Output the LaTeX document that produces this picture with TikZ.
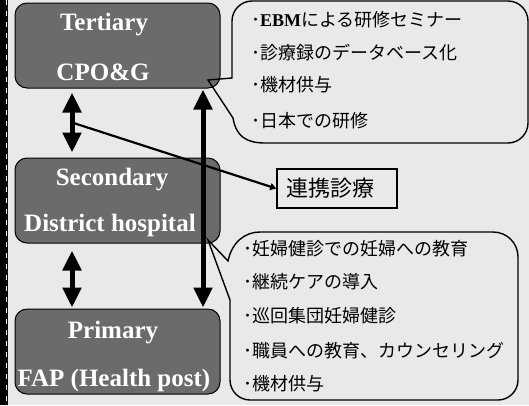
\documentclass[tikz,border=0pt]{standalone}
\usepackage{fontspec}
\setmainfont{Liberation Serif}
\newfontfamily\jp{Noto Sans CJK JP}
\usetikzlibrary{arrows.meta,calc}
\begin{document}
\begin{tikzpicture}[x=1pt,y=-1pt,
  tierbox/.style={draw=black, line width=1pt, fill=black!58, rounded corners=12pt, minimum width=205pt, minimum height=85pt, inner sep=0pt},
  tiertext/.style={text=white, font=\bfseries\fontsize{25}{25}\selectfont, inner sep=0pt},
  dbl/.style={line width=5pt, {Triangle[width=18pt,length=20pt]}-{Triangle[width=18pt,length=20pt]}},
  callout/.style={draw=black, line width=1.4pt},
  jptext/.style={anchor=west, inner sep=0pt, font=\jp\fontsize{18}{18}\selectfont},
  linkbox/.style={draw=black, line width=1.6pt, minimum width=120pt, minimum height=39pt, inner sep=0pt, font=\jp\fontsize{22}{22}\selectfont},
  conn/.style={line width=2.2pt, -{Triangle[width=7pt,length=6pt]}}
]
\useasboundingbox (0,0) rectangle (529,405);
\fill[gray!17] (0,0) rectangle (529,405);
\fill[black] (0,0) rectangle (8,405);
\draw[white, line width=1pt, dash pattern=on 5pt off 6pt] (6,0) -- (6,405);

% tier boxes
\node[tierbox] (tert) at (117.5,45.5) {};
\node[tierbox] (sec) at (117.5,200.5) {};
\node[tierbox] (prim) at (117.5,351.5) {};

\node[tiertext] (tertA) at (104,25) {Tertiary};
\node[tiertext] (tertB) at (103,72) {CPO\&G};
\node[tiertext] (secA) at (112,180) {Secondary};
\node[tiertext] (secB) at (110,225) {District hospital};
\node[tiertext] (primA) at (113,333) {Primary};
\node[tiertext] (primB) at (114,380) {FAP (Health post)};

% arrows
\coordinate (a1t) at ([xshift=-45.5pt,yshift=-4pt]tert.south);
\coordinate (a1b) at ([xshift=-45.5pt,yshift=5pt]sec.north);
\coordinate (a2t) at ([xshift=-45.5pt,yshift=-7pt]sec.south);
\coordinate (a2b) at ([xshift=-45.5pt,yshift=1pt]prim.north);
\coordinate (a3t) at ([xshift=85.5pt,yshift=-1pt]tert.south);
\coordinate (a3b) at ([xshift=85.5pt,yshift=1pt]prim.north);
\draw[dbl] (a1t) -- (a1b);
\draw[dbl] (a2t) -- (a2b);
\draw[dbl] (a3t) -- (a3b);

\coordinate (mid) at ($(a1t)!0.5!(a1b)$);
\node[linkbox] (link) at (337,188.5) {連携診療\hspace*{14pt}};
\draw[conn] (mid) -- (link.west);

% callouts
\draw[callout] (232,78) -- (232,21) .. controls (232,10) and (241,1) .. (252,1) -- (508,1) .. controls (519,1) and (528,10) .. (528,21) -- (528,123) .. controls (528,134) and (519,143) .. (508,143) -- (265,143) .. controls (246,143) and (236,136) .. (233,118) -- (208,80) -- cycle;
\draw[callout] (230,300) -- (208,240) -- (228,261) .. controls (232,242) and (245,232) .. (260,232) -- (493,232) .. controls (507,232) and (518,243) .. (518,257) -- (518,380) .. controls (518,391) and (509,400) .. (498,400) -- (250,400) .. controls (239,400) and (230,391) .. (230,380) -- cycle;

% upper texts
\node[jptext] (u1) at (251,20) {･{\rmfamily\bfseries EBM}による研修セミナー};
\node[jptext] (u2) at (251,53) {･診療録のデータベース化};
\node[jptext] (u3) at (251,85) {･機材供与};
\node[jptext] (u4) at (251,121) {･日本での研修};

% lower texts
\node[jptext] (l1) at (243,249) {･妊婦健診での妊婦への教育};
\node[jptext] (l2) at (243,282) {･継続ケアの導入};
\node[jptext] (l3) at (243,316) {･巡回集団妊婦健診};
\node[jptext] (l4) at (243,351) {･職員への教育、カウンセリング};
\node[jptext] (l5) at (243,384) {･機材供与};
\end{tikzpicture}
\end{document}
